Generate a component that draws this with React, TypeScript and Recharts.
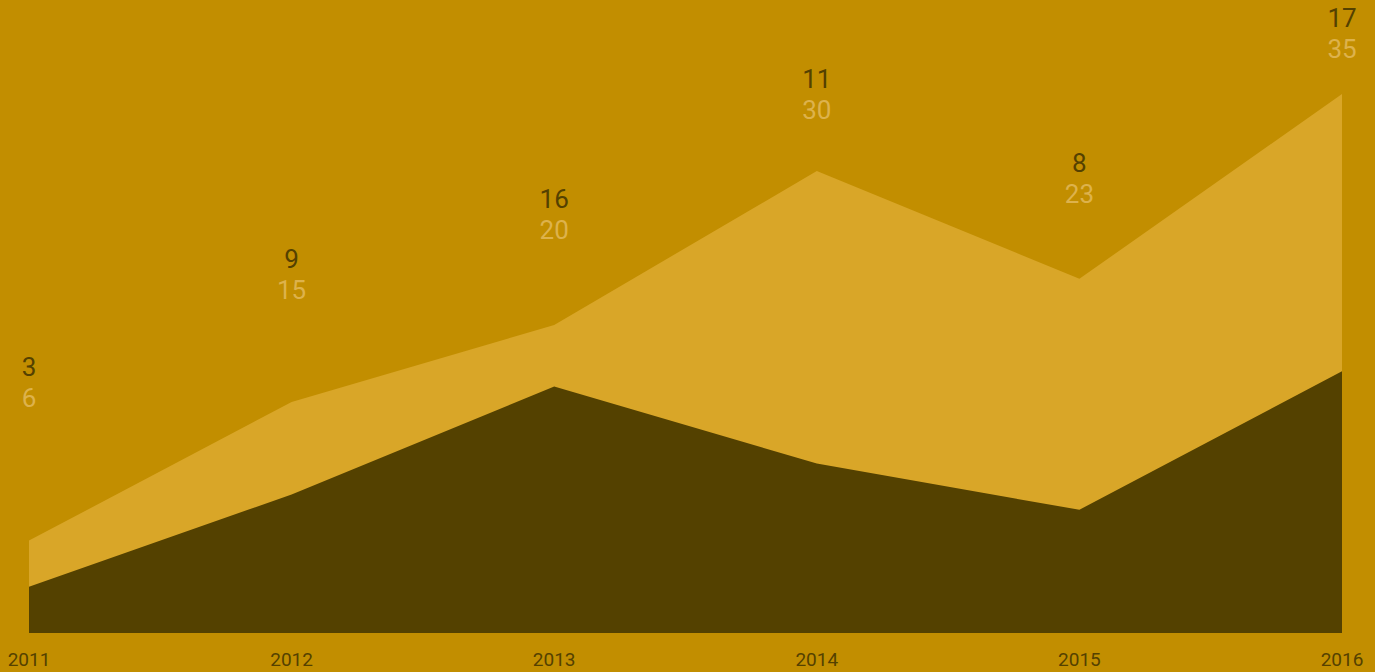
import { AreaChart, Area, Line, XAxis, YAxis, LabelList } from 'recharts';

const years = ['2011', '2012', '2013', '2014', '2015', '2016'];
const totals = [6, 15, 20, 30, 23, 35];
const parts = [3, 9, 16, 11, 8, 17];

const BG = '#C28E00';
const LIGHT = '#D9A628';
const DARK = '#544100';
const LIGHT_TEXT = '#DDB24C';
const FONT = 'Roboto, "Noto Sans", sans-serif';

const data = years.map((year, i) => ({ year, total: totals[i], part: parts[i] }));

// two stacked numbers above each year: dark series on top, light series below
function PairLabel(props: any) {
  const { x, y, index } = props;
  return (
    <g fontFamily={FONT} fontSize={26} textAnchor="middle" dominantBaseline="central">
      <text x={x} y={y - 31} fill={DARK}>{parts[index]}</text>
      <text x={x} y={y} fill={LIGHT_TEXT}>{totals[index]}</text>
    </g>
  );
}

export default function App() {
  return (
    <div style={{ position: 'absolute', left: 0, top: 0, width: 1375, height: 672, background: BG }}>
      <AreaChart width={1375} height={672} data={data} margin={{ top: 17, right: 33, left: 29, bottom: 9 }}>
        <XAxis
          dataKey="year"
          interval={0}
          axisLine={false}
          tickLine={false}
          tickMargin={14}
          height={30}
          tick={{ fill: DARK, fontSize: 19, fontFamily: FONT }}
        />
        <YAxis yAxisId="main" hide domain={[0, 40]} />
        <YAxis yAxisId="labels" hide domain={[-13.5, 37.7]} />
        <Area yAxisId="main" type="linear" dataKey="total" stroke="none" fill={LIGHT} fillOpacity={1} isAnimationActive={false} />
        <Area yAxisId="main" type="linear" dataKey="part" stroke="none" fill={DARK} fillOpacity={1} isAnimationActive={false} />
        <Line yAxisId="labels" type="linear" dataKey="total" stroke="none" dot={false} activeDot={false} isAnimationActive={false}>
          <LabelList dataKey="total" content={PairLabel} />
        </Line>
      </AreaChart>
    </div>
  );
}
